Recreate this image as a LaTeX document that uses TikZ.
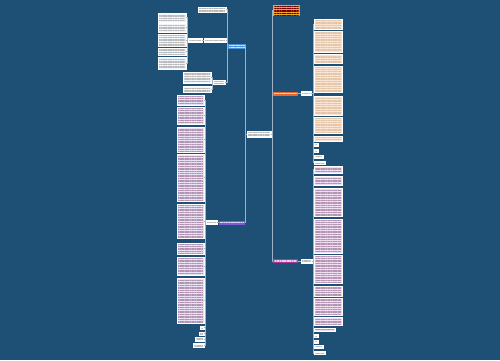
\documentclass[tikz,border=0pt]{standalone}
\usetikzlibrary{patterns.meta}
\definecolor{bgblue}{RGB}{30,79,117}
\definecolor{linkgray}{RGB}{160,178,198}
\definecolor{topblue}{RGB}{74,144,217}
\definecolor{toporange}{RGB}{226,104,48}
\definecolor{topyellow}{RGB}{242,165,45}
\definecolor{topmagenta}{RGB}{172,52,158}
\definecolor{topviolet}{RGB}{124,92,214}
\definecolor{peach}{RGB}{252,228,212}
\definecolor{lilac}{RGB}{240,222,242}
\definecolor{lavender}{RGB}{232,226,244}
\definecolor{paleblue}{RGB}{240,245,252}
\tikzset{
  txt/.style={path picture={\fill[pattern={Lines[angle=0,distance=1.7pt,line width=0.35pt]},pattern color=#1]
    ([shift={(1pt,-0.8pt)}]path picture bounding box.north west) rectangle
    ([shift={(-1pt,0.8pt)}]path picture bounding box.south east);}},
  sz/.style 2 args={minimum width=#1pt, minimum height=#2pt},
  box/.style={rectangle, inner sep=0pt, draw=white, line width=0.5pt},
  plain/.style={box, fill=white, txt=gray!55},
  topic/.style={rectangle, inner sep=0pt, fill=#1, txt=white!75!#1},
  peachbox/.style={box, fill=peach, txt=brown!45},
  lilacbox/.style={box, fill=lilac, txt=gray!60!violet!60},
  lavbox/.style={box, fill=lavender, txt=gray!60!violet!60},
  bluebox/.style={box, fill=paleblue, txt=gray!55},
  link/.style={draw=linkgray, line width=0.5pt}
}
\begin{document}
\begin{tikzpicture}[x=1pt, y=-1pt]
\useasboundingbox (0,0) rectangle (500,360);
\fill[bgblue] (0,0) rectangle (500,360);

% centre
\node[plain, sz={24}{6}] (c) at (259,134) {};

% left, blue branch
\node[topic=topblue, sz={18}{5}] (l1) at (237,46.5) {};
\node[plain, sz={28}{5}] (lt) at (212,9.5) {};
\node[plain, sz={22}{4}] (la) at (215,40.5) {};
\node[plain, sz={14}{4}] (lb) at (195,40.5) {};
\node[plain, sz={12}{4}] (lc) at (219,82.5) {};
\node[bluebox, sz={28}{9}] (b1) at (172,17.5) {};
\node[bluebox, sz={28}{9}] (b2) at (172,27.5) {};
\node[bluebox, sz={28}{12}] (b3) at (172,40) {};
\node[bluebox, sz={28}{7}] (b4) at (172,51.5) {};
\node[bluebox, sz={28}{12}] (b5) at (172,63) {};
\node[bluebox, sz={28}{11}] (b6) at (197,77.5) {};
\node[bluebox, sz={28}{6}] (b7) at (197,89) {};

% left, violet branch
\node[topic=topviolet, sz={26}{4}] (pp) at (232,222.5) {};
\node[plain, sz={11}{4}] (pq) at (211.5,222.5) {};
\node[lavbox, sz={27}{10}] (p1) at (190.5,100) {};
\node[lavbox, sz={27}{17}] (p2) at (190.5,115.5) {};
\node[lavbox, sz={27}{25}] (p3) at (190.5,139.5) {};
\node[lavbox, sz={27}{47}] (p4) at (190.5,177.5) {};
\node[lavbox, sz={27}{34}] (p5) at (190.5,221) {};
\node[lavbox, sz={27}{11}] (p6) at (190.5,248.5) {};
\node[lavbox, sz={27}{18}] (p7) at (190.5,266) {};
\node[lavbox, sz={27}{45}] (p8) at (190.5,300.5) {};
\node[plain, sz={4}{3}] (p9) at (202,327.5) {};
\node[plain, sz={5}{3}] (p10) at (201.5,333.5) {};
\node[plain, sz={9}{4}] (p11) at (199.5,339) {};
\node[plain, sz={11}{4}] (p12) at (198.5,345) {};

% right, summary
\node[topic=topyellow, sz={27}{11}, txt=red!45!black] (y0) at (286.5,10.5) {};

% right, orange branch
\node[topic=toporange, sz={25}{4}] (r1) at (285.5,93.5) {};
\node[plain, sz={10}{4}] (rq) at (306,93.5) {};
\node[peachbox, sz={28}{10}] (o1) at (328,24) {};
\node[peachbox, sz={28}{21}] (o2) at (328,41.5) {};
\node[peachbox, sz={28}{9}] (o3) at (328,58.5) {};
\node[peachbox, sz={28}{26}] (o4) at (328,79) {};
\node[peachbox, sz={28}{19}] (o5) at (328,105.5) {};
\node[peachbox, sz={28}{16}] (o6) at (328,125) {};
\node[peachbox, sz={28}{5}] (o7) at (328,138.5) {};
\node[plain, sz={4}{3}] (o8) at (316,144.5) {};
\node[plain, sz={4}{3}] (o9) at (316,150.5) {};
\node[plain, sz={9}{3}] (o10) at (318.5,156.5) {};
\node[plain, sz={11}{3}] (o11) at (319.5,162.5) {};

% right, magenta branch
\node[topic=topmagenta, sz={25}{4}] (r2) at (285.5,261) {};
\node[plain, sz={11}{4}] (rr) at (306.5,261) {};
\node[lilacbox, sz={28}{7}] (m1) at (328,169.5) {};
\node[lilacbox, sz={28}{9}] (m2) at (328,180.5) {};
\node[lilacbox, sz={28}{28}] (m3) at (328,202) {};
\node[lilacbox, sz={28}{34}] (m4) at (328,236) {};
\node[lilacbox, sz={28}{28}] (m5) at (328,269) {};
\node[lilacbox, sz={28}{10}] (m6) at (328,291) {};
\node[lilacbox, sz={28}{17}] (m7) at (328,306.5) {};
\node[lilacbox, sz={28}{8}] (m8) at (328,321) {};
\node[lilacbox, sz={21}{3}] (m9) at (324.5,329.5) {};
\node[plain, sz={4}{3}] (m10) at (316,335.5) {};
\node[plain, sz={4}{3}] (m11) at (316,341.5) {};
\node[plain, sz={9}{3}] (m12) at (318.5,347) {};
\node[plain, sz={11}{3}] (m13) at (319.5,353) {};

% links
\foreach \t in {y0,r1,r2} \draw[link] (c.east) -- ++(1,0) |- (\t.west);
\foreach \t in {l1,pp} \draw[link] (c.west) -- ++(-1.5,0) |- (\t.east);
\foreach \t in {lt,la,lc} \draw[link] (l1.west) -- ++(-1,0) |- (\t.east);
\draw[link] (la.west) -- (lb.east);
\foreach \t in {b1,b2,b3,b4,b5} \draw[link] (lb.west) -- ++(-1,0) |- (\t.east);
\foreach \t in {b6,b7} \draw[link] (lc.west) -- ++(-1,0) |- (\t.east);
\draw[link] (pp.west) -- (pq.east);
\foreach \t in {p1,p2,p3,p4,p5,p6,p7,p8,p9,p10,p11,p12} \draw[link] (pq.west) -- ++(-1,0) |- (\t.east);
\draw[link] (r1.east) -- (rq.west);
\foreach \t in {o1,o2,o3,o4,o5,o6,o7,o8,o9,o10,o11} \draw[link] (rq.east) -- ++(1.5,0) |- (\t.west);
\draw[link] (r2.east) -- (rr.west);
\foreach \t in {m1,m2,m3,m4,m5,m6,m7,m8,m9,m10,m11,m12,m13} \draw[link] (rr.east) -- ++(1,0) |- (\t.west);
\end{tikzpicture}
\end{document}
